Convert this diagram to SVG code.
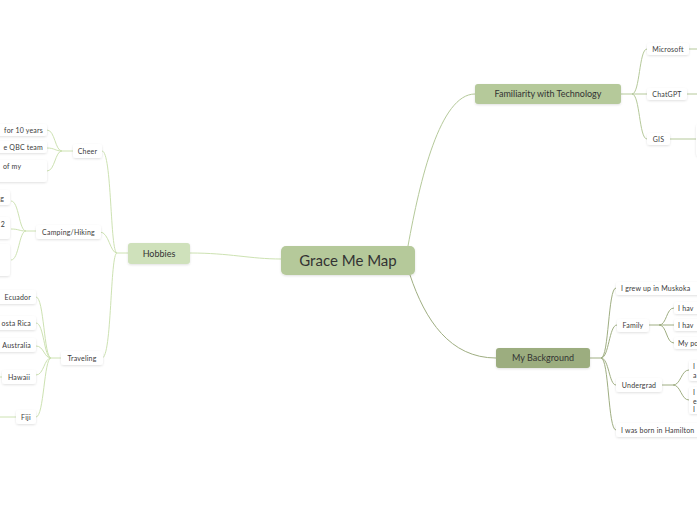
<svg xmlns="http://www.w3.org/2000/svg" width="697" height="520" viewBox="0 0 697 520">
<defs>
<filter id="sh" x="-20%" y="-30%" width="140%" height="170%">
<feDropShadow dx="0" dy="1" stdDeviation="1" flood-color="#000" flood-opacity="0.12"/>
</filter>
<style>
text{font-family:Lato,"Noto Sans","Liberation Sans",sans-serif;fill:#333}
.leaf{fill:#fff;filter:url(#sh)}
.lt{font-size:7px;letter-spacing:0.2px;fill:#3a3a3a}
.mt{font-size:9px;text-anchor:middle}
.c{fill:none;stroke-width:1}
.lg{stroke:#cde2b2}
.tg{stroke:#b5c99a}
.bg{stroke:#9fae82}
</style>
</defs>
<rect width="697" height="520" fill="#fff"/>
<g id="connectors">
<path class="c lg" d="M190,253 C230,253 250,259 281,259" stroke-width="1.3"/>
<path class="c lg" d="M128,253 L117,253 C110,253 112,151 102,151"/>
<path class="c lg" d="M117,253 C110,253 109,232 100,232"/>
<path class="c lg" d="M117,253 C110,253 112,358 102,358"/>
<path class="c lg" d="M73,151 L62,151 C55,151 55,130 47,130"/>
<path class="c lg" d="M62,151 C55,151 55,148 47,148"/>
<path class="c lg" d="M62,151 C55,151 55,171 47,171"/>
<path class="c lg" d="M36,231 L26,231 C19,231 19,201 11,201"/>
<path class="c lg" d="M26,231 C19,231 19,229 11,229"/>
<path class="c lg" d="M26,231 C19,231 19,260 11,260"/>
<path class="c lg" d="M61,358 L51,358 C44,358 44,297 36,297"/>
<path class="c lg" d="M51,358 C44,358 44,323 36,323"/>
<path class="c lg" d="M51,358 C44,358 44,346 36,346"/>
<path class="c lg" d="M51,358 C44,358 44,375 36,375"/>
<path class="c lg" d="M51,358 C44,358 44,417 36,417"/>
<path class="c lg" d="M0,377 L2,377"/>
<path class="c lg" d="M0,417 L16,417"/>
<path class="c tg" d="M408,246 C420,180 440,94 475,94" stroke-width="1.3"/>
<path class="c bg" d="M410,275 C425,320 450,358 496,358" stroke-width="1.3"/>
<path class="c tg" d="M621,94 L632,94 C640,94 639,49 647,49"/>
<path class="c tg" d="M632,94 L647,94"/>
<path class="c tg" d="M632,94 C640,94 639,139 647,139"/>
<path class="c tg" d="M689,49 L697,49"/>
<path class="c tg" d="M687,94 L697,94"/>
<path class="c tg" d="M670,139 L697,139"/>
<path class="c bg" d="M590,358 L601,358 C609,358 608,288 616,288"/>
<path class="c bg" d="M601,358 C609,358 609,325 617,325"/>
<path class="c bg" d="M601,358 C609,358 609,385 616,385"/>
<path class="c bg" d="M601,358 C609,358 608,430 616,430"/>
<path class="c bg" d="M649,325 L659,325 C667,325 666,308 674,308"/>
<path class="c bg" d="M659,325 L674,325"/>
<path class="c bg" d="M659,325 C667,325 666,343 674,343"/>
<path class="c bg" d="M662,385 L673,385 C681,385 681,370 689,370"/>
<path class="c bg" d="M673,385 C681,385 681,400 689,400"/>
</g>
<g id="central">
<rect x="281" y="246" width="134" height="29" rx="5" fill="#b5c99a" filter="url(#sh)"/>
<text x="348" y="266" font-size="15" text-anchor="middle" fill="#2b2b2b">Grace Me Map</text>
</g>
<g id="hobbies">
<rect x="128" y="243" width="62" height="21" rx="3" fill="#cfe1bb" filter="url(#sh)"/>
<text class="mt" x="159" y="257">Hobbies</text>
</g>
<g id="cheer">
<rect class="leaf" x="73" y="144" width="29" height="14" rx="3"/>
<text class="lt" x="87.5" y="153.5" text-anchor="middle">Cheer</text>
</g>
<g id="cheer-1"><rect class="leaf" x="-20" y="124" width="67" height="12" rx="3"/><text class="lt" x="43" y="132.5" text-anchor="end">for 10 years</text></g>
<g id="cheer-2"><rect class="leaf" x="-20" y="141" width="67" height="12" rx="3"/><text class="lt" x="43" y="149.5" text-anchor="end">e QBC team</text></g>
<g id="cheer-3"><rect class="leaf" x="-20" y="160" width="67" height="22" rx="3"/><text class="lt" x="3" y="168.5">of my</text></g>
<g id="camping">
<rect class="leaf" x="36" y="225" width="65" height="14" rx="3"/>
<text class="lt" x="68.5" y="234.5" text-anchor="middle">Camping/Hiking</text>
</g>
<g id="camping-1"><rect class="leaf" x="-20" y="190" width="30" height="15" rx="3"/><text class="lt" x="4" y="200.5" text-anchor="end">g</text></g>
<g id="camping-2"><rect class="leaf" x="-20" y="217" width="30" height="22" rx="3"/><text class="lt" x="5" y="226.5" text-anchor="end">2</text></g>
<g id="camping-3"><rect class="leaf" x="-20" y="244" width="30" height="32" rx="3"/></g>
<g id="traveling">
<rect class="leaf" x="61" y="351" width="42" height="14" rx="3"/>
<text class="lt" x="82" y="360.5" text-anchor="middle">Traveling</text>
</g>
<g id="ecuador"><rect class="leaf" x="-20" y="290" width="56" height="14" rx="3"/><text class="lt" x="31" y="299.5" text-anchor="end">Ecuador</text></g>
<g id="costarica"><rect class="leaf" x="-20" y="316" width="56" height="14" rx="3"/><text class="lt" x="31" y="325.5" text-anchor="end">osta Rica</text></g>
<g id="australia"><rect class="leaf" x="-20" y="338" width="56" height="14" rx="3"/><text class="lt" x="31" y="347.5" text-anchor="end">Australia</text></g>
<g id="hawaii"><rect class="leaf" x="2" y="370" width="34" height="14" rx="3"/><text class="lt" x="19" y="379.5" text-anchor="middle">Hawaii</text></g>
<g id="fiji"><rect class="leaf" x="16" y="410" width="20" height="14" rx="3"/><text class="lt" x="26" y="419.5" text-anchor="middle">Fiji</text></g>
<g id="familiarity">
<rect x="475" y="84" width="146" height="20" rx="3" fill="#b5c99a" filter="url(#sh)"/>
<text class="mt" x="548" y="97">Familiarity with Technology</text>
</g>
<g id="microsoft"><rect class="leaf" x="647" y="43" width="42" height="12" rx="3"/><text class="lt" x="668" y="51.5" text-anchor="middle">Microsoft</text></g>
<g id="chatgpt"><rect class="leaf" x="647" y="88" width="40" height="12" rx="3"/><text class="lt" x="667" y="96.5" text-anchor="middle">ChatGPT</text></g>
<g id="gis"><rect class="leaf" x="647" y="133" width="23" height="12" rx="3"/><text class="lt" x="658.5" y="141.5" text-anchor="middle">GIS</text></g>
<g id="gis-1"><rect class="leaf" x="696" y="124" width="20" height="32" rx="3"/></g>
<g id="background">
<rect x="496" y="348" width="94" height="20" rx="3" fill="#9cad7f" filter="url(#sh)"/>
<text class="mt" x="543" y="361">My Background</text>
</g>
<g id="muskoka"><rect class="leaf" x="616" y="282" width="90" height="13" rx="3"/><text class="lt" x="621" y="290.5">I grew up in Muskoka</text></g>
<g id="family"><rect class="leaf" x="617" y="319" width="32" height="13" rx="3"/><text class="lt" x="633" y="327.5" text-anchor="middle">Family</text></g>
<g id="family-1"><rect class="leaf" x="674" y="302" width="30" height="12" rx="3"/><text class="lt" x="678" y="310.5">I hav</text></g>
<g id="family-2"><rect class="leaf" x="674" y="319" width="30" height="12" rx="3"/><text class="lt" x="678" y="327.5">I hav</text></g>
<g id="family-3"><rect class="leaf" x="674" y="337" width="30" height="12" rx="3"/><text class="lt" x="678" y="345.5">My po</text></g>
<g id="undergrad"><rect class="leaf" x="616" y="378" width="46" height="14" rx="3"/><text class="lt" x="639" y="387.5" text-anchor="middle">Undergrad</text></g>
<g id="undergrad-1"><rect class="leaf" x="689" y="360" width="20" height="21" rx="3"/><text class="lt" x="693" y="368.5">I</text><text class="lt" x="693" y="378">a</text></g>
<g id="undergrad-2"><rect class="leaf" x="689" y="387" width="20" height="27" rx="3"/><text class="lt" x="693" y="395">I</text><text class="lt" x="693" y="403.5">e</text><text class="lt" x="693" y="412">I</text></g>
<g id="hamilton"><rect class="leaf" x="616" y="423" width="90" height="14" rx="3"/><text class="lt" x="621" y="432.5">I was born in Hamilton</text></g>
</svg>
